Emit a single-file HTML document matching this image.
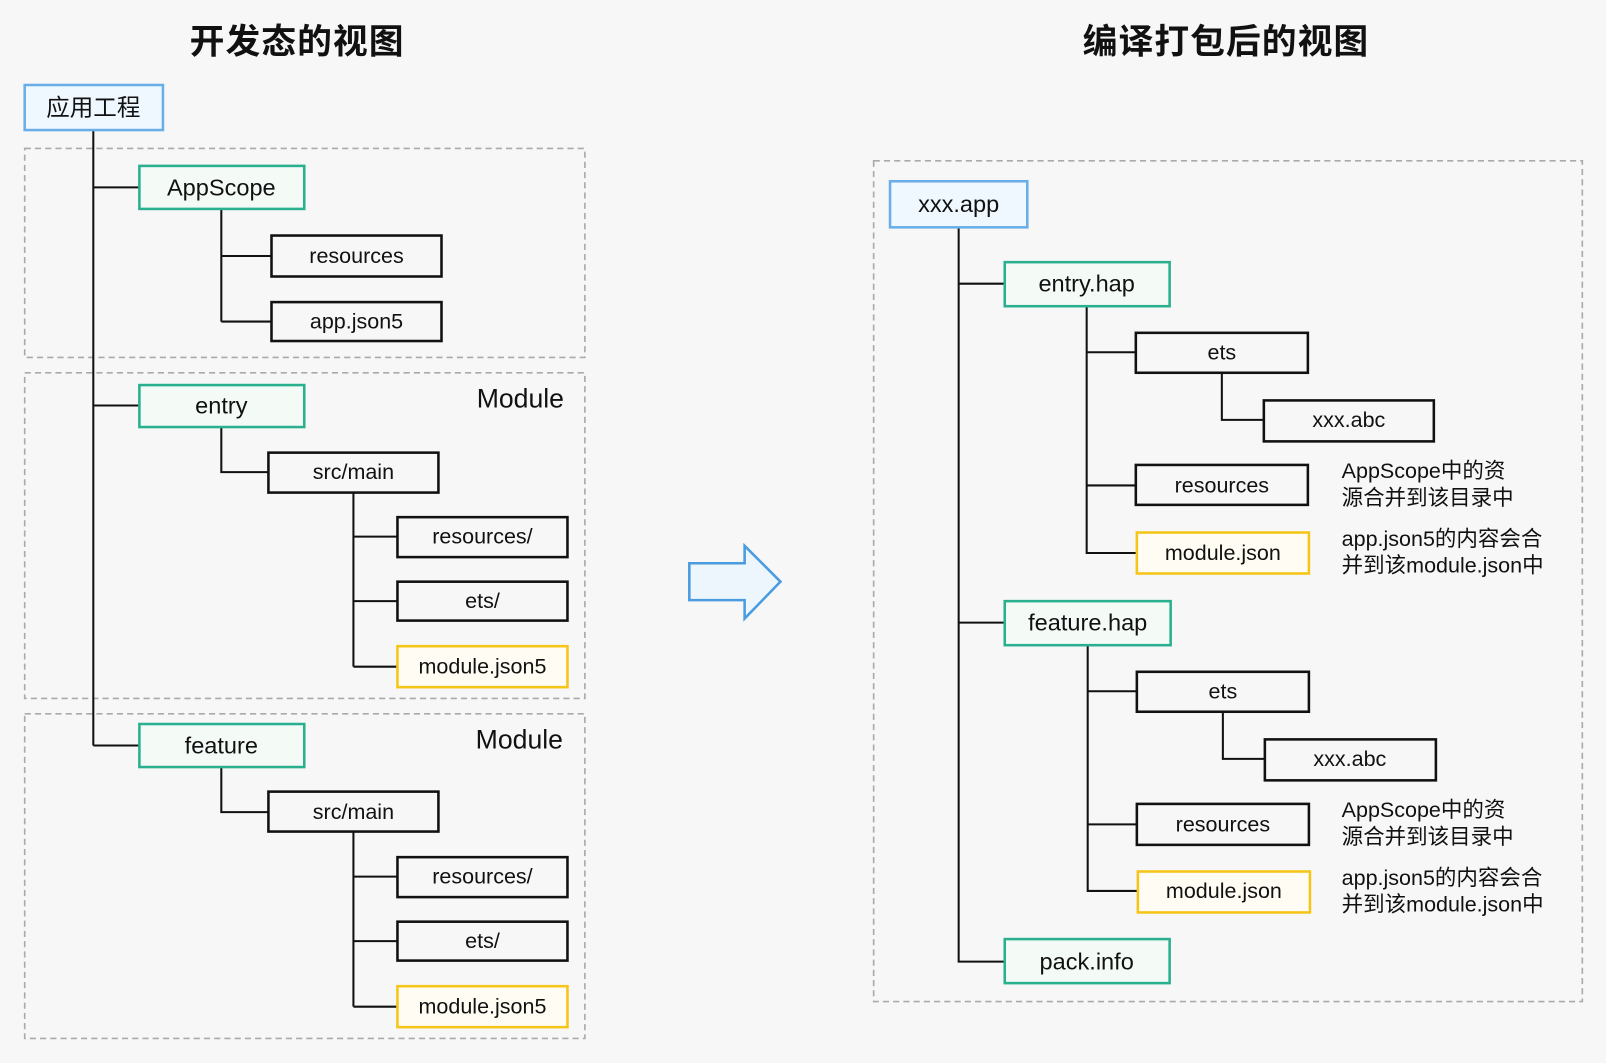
<!DOCTYPE html>
<html><head><meta charset="utf-8"><style>
html,body{margin:0;padding:0;background:#f7f7f7;}
svg{display:block}
text{font-family:"Liberation Sans","Noto Sans CJK SC",sans-serif;fill:#111}
.t{font-weight:bold;font-size:34px;letter-spacing:1px}
.bl{fill:#f0f8ff;stroke:#6aaee8;stroke-width:2.5}
.gr{fill:#f4fbf7;stroke:#2bb08f;stroke-width:2.5}
.bk{fill:none;stroke:#111;stroke-width:2.5}
.ye{fill:#fffdf3;stroke:#f5c518;stroke-width:2.5}
.ds{fill:none;stroke:#aaa;stroke-width:1.6;stroke-dasharray:6 4}
.ln{stroke:#111;stroke-width:2;fill:none}
.b{font-size:21px;text-anchor:middle;dominant-baseline:central}
.g{font-size:23px;text-anchor:middle;dominant-baseline:central}
.n{font-size:21px}
</style></head><body>
<svg width="1606" height="1063" viewBox="0 0 1568 1038" xmlns="http://www.w3.org/2000/svg">
<text class="t" x="290" y="52" text-anchor="middle">开发态的视图</text>
<text class="t" x="1197" y="52" text-anchor="middle">编译打包后的视图</text>

<rect class="ds" x="24" y="145" width="547" height="204"/>
<rect class="ds" x="24" y="364" width="547" height="318"/>
<rect class="ds" x="24" y="697" width="547" height="317"/>

<path class="ln" d="M91 127V728M91 183H136M91 396H136M91 728H136
M216 204V314M216 250H265M216 314H265
M216 417V461H262M345 481V651M345 524H388M345 587H388M345 651H388
M216 749V793H262M345 812V983M345 856H388M345 919H388M345 983H388"/>

<rect class="bl" x="24" y="83" width="135" height="44"/><text class="g" x="91" y="105">应用工程</text>
<rect class="gr" x="136" y="162" width="161" height="42"/><text class="g" x="216" y="183">AppScope</text>
<rect class="bk" x="265" y="230" width="166" height="40"/><text class="b" x="348" y="250">resources</text>
<rect class="bk" x="265" y="295" width="166" height="38"/><text class="b" x="348" y="314">app.json5</text>

<rect class="gr" x="136" y="376" width="161" height="41"/><text class="g" x="216" y="396">entry</text>
<text x="508" y="398" font-size="26" text-anchor="middle">Module</text>
<rect class="bk" x="262" y="442" width="166" height="39"/><text class="b" x="345" y="461">src/main</text>
<rect class="bk" x="388" y="505" width="166" height="39"/><text class="b" x="471" y="524">resources/</text>
<rect class="bk" x="388" y="568" width="166" height="38"/><text class="b" x="471" y="587">ets/</text>
<rect class="ye" x="388" y="631" width="166" height="40"/><text class="b" x="471" y="651">module.json5</text>

<rect class="gr" x="136" y="707" width="161" height="42"/><text class="g" x="216" y="728">feature</text>
<text x="507" y="731" font-size="26" text-anchor="middle">Module</text>
<rect class="bk" x="262" y="773" width="166" height="39"/><text class="b" x="345" y="793">src/main</text>
<rect class="bk" x="388" y="837" width="166" height="39"/><text class="b" x="471" y="856">resources/</text>
<rect class="bk" x="388" y="900" width="166" height="38"/><text class="b" x="471" y="919">ets/</text>
<rect class="ye" x="388" y="963" width="166" height="40"/><text class="b" x="471" y="983">module.json5</text>

<polygon points="673,550 727,550 727,533 762,568 727,604 727,586 673,586" fill="#eef6fd" stroke="#4a9be0" stroke-width="2.5"/>

<rect class="ds" x="853" y="157" width="692" height="821"/>
<path class="ln" d="M936 222V939H981M936 277H981M936 608H981
M1061 299V540H1110M1061 344H1109M1061 474H1109
M1193 364V410H1234
M1062 630V870H1111M1062 675H1110M1062 805H1110
M1194 695V741H1235"/>

<rect class="bl" x="869" y="177" width="134" height="45"/><text class="g" x="936" y="199">xxx.app</text>
<rect class="gr" x="981" y="256" width="161" height="43"/><text class="g" x="1061" y="277">entry.hap</text>
<rect class="bk" x="1109" y="325" width="168" height="39"/><text class="b" x="1193" y="344">ets</text>
<rect class="bk" x="1234" y="391" width="166" height="40"/><text class="b" x="1317" y="410">xxx.abc</text>
<rect class="bk" x="1109" y="454" width="168" height="39"/><text class="b" x="1193" y="474">resources</text>
<rect class="ye" x="1110" y="520" width="168" height="40"/><text class="b" x="1194" y="540">module.json</text>
<text class="n" x="1310" y="467">AppScope中的资</text><text class="n" x="1310" y="493">源合并到该目录中</text>
<text class="n" x="1310" y="533">app.json5的内容会合</text><text class="n" x="1310" y="559">并到该module.json中</text>

<rect class="gr" x="981" y="587" width="162" height="43"/><text class="g" x="1062" y="608">feature.hap</text>
<rect class="bk" x="1110" y="656" width="168" height="39"/><text class="b" x="1194" y="675">ets</text>
<rect class="bk" x="1235" y="722" width="167" height="40"/><text class="b" x="1318" y="741">xxx.abc</text>
<rect class="bk" x="1110" y="785" width="168" height="40"/><text class="b" x="1194" y="805">resources</text>
<rect class="ye" x="1111" y="851" width="168" height="40"/><text class="b" x="1195" y="870">module.json</text>
<text class="n" x="1310" y="798">AppScope中的资</text><text class="n" x="1310" y="824">源合并到该目录中</text>
<text class="n" x="1310" y="864">app.json5的内容会合</text><text class="n" x="1310" y="890">并到该module.json中</text>

<rect class="gr" x="981" y="917" width="161" height="43"/><text class="g" x="1061" y="939">pack.info</text>
</svg>
</body></html>
